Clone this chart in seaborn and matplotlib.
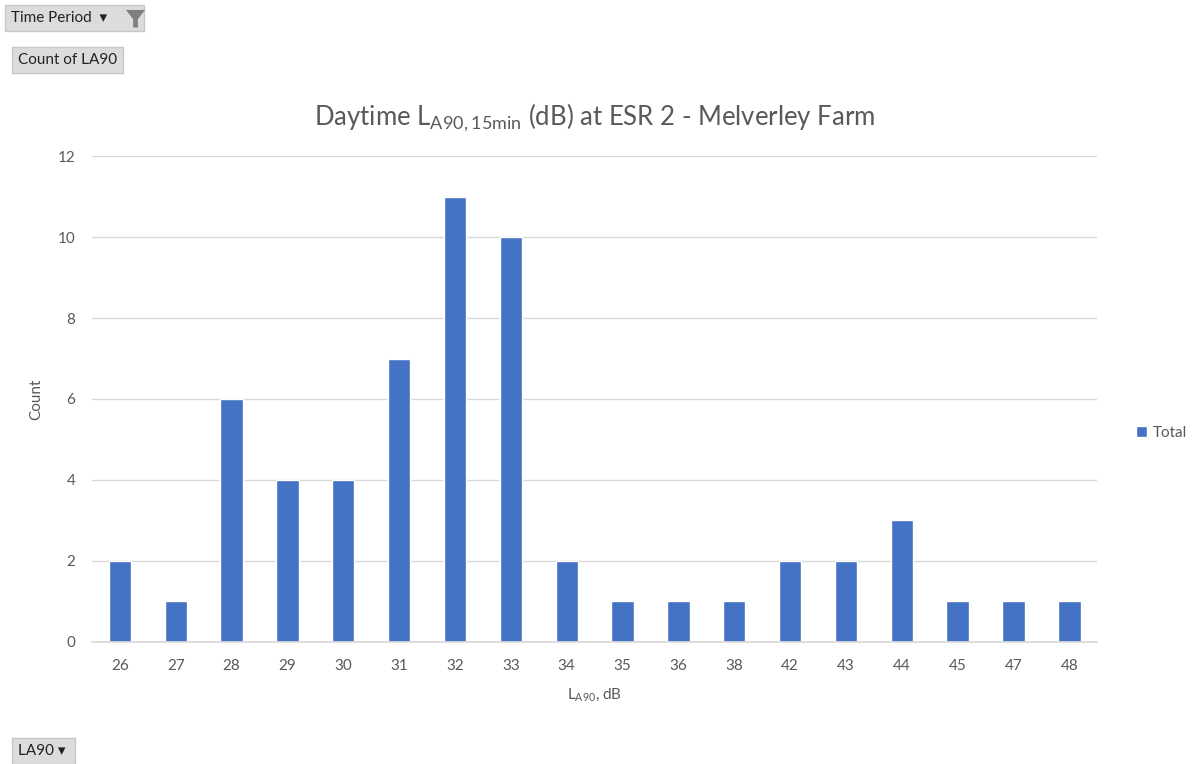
import pandas as pd
import matplotlib.pyplot as plt
import seaborn as sns
from matplotlib.patches import Polygon

# --- data ---
levels = ['26', '27', '28', '29', '30', '31', '32', '33', '34', '35',
          '36', '38', '42', '43', '44', '45', '47', '48']
counts = [2, 1, 6, 4, 4, 7, 11, 10, 2, 1, 1, 1, 2, 2, 3, 1, 1, 1]
series = ['Total'] * len(levels)
y_ticks = [0, 2, 4, 6, 8, 10, 12]

df = pd.DataFrame({'LA90': levels, 'Count': counts, 'Series': series})

sns.set_theme(style="white")
plt.rcParams['font.family'] = ['Lato', 'DejaVu Sans']

txt = '#595959'
bar_col = '#4472C4'

fig = plt.figure(figsize=(11.94, 7.64), dpi=100)
ax = fig.add_axes([0.077, 0.1597, 0.842, 0.6361])

sns.barplot(data=df, x='LA90', y='Count', hue='Series', order=levels,
            palette=[bar_col], width=0.4, saturation=1, ax=ax, legend=True)

ax.set_ylim(0, 12)
ax.set_yticks(y_ticks)
ax.set_xlim(-0.5, len(levels) - 0.5)
ax.grid(axis='y', color='#D9D9D9', linewidth=1)
ax.set_axisbelow(True)
for side in ['top', 'right', 'left']:
    ax.spines[side].set_visible(False)
ax.spines['bottom'].set_color('#D9D9D9')
ax.tick_params(axis='both', length=0, labelsize=11, colors=txt, pad=12)
ax.tick_params(axis='y', pad=12)

ax.set_xlabel(r'L$_{\mathregular{A90}}$, dB', color=txt, fontsize=11, labelpad=10)
ax.set_ylabel('Count', color=txt, fontsize=11, labelpad=10)
ax.set_title(r'Daytime L$_{\mathregular{A90,15min}}$ (dB) at ESR 2 - Melverley Farm',
             color=txt, fontsize=18.5, pad=22)

leg = ax.legend(loc='center left', bbox_to_anchor=(1.025, 0.43), frameon=False,
                fontsize=11, handlelength=0.7, handleheight=0.7, handletextpad=0.4)
for t in leg.get_texts():
    t.set_color(txt)

# pivot field buttons
btn = dict(boxstyle='square,pad=0.4', facecolor='#DCDCDC', edgecolor='#C8C8C8')
fig.text(0.009, 0.976, 'Time Period  \u25BE        ', fontsize=11, color='#222222',
         va='center', ha='left', bbox=btn)
# little funnel icon
fig.patches.append(Polygon([(0.1055, 0.987), (0.1215, 0.987), (0.1155, 0.975),
                            (0.1155, 0.964), (0.1115, 0.964), (0.1115, 0.975)],
                           closed=True, transform=fig.transFigure,
                           facecolor='#7F7F7F', edgecolor='none', zorder=5))
fig.text(0.015, 0.921, 'Count of LA90', fontsize=11, color='#222222',
         va='center', ha='left', bbox=btn)
fig.text(0.015, 0.017, 'LA90 \u25BE ', fontsize=11, color='#222222',
         va='center', ha='left', bbox=btn)

plt.savefig('out.png', dpi=100)
